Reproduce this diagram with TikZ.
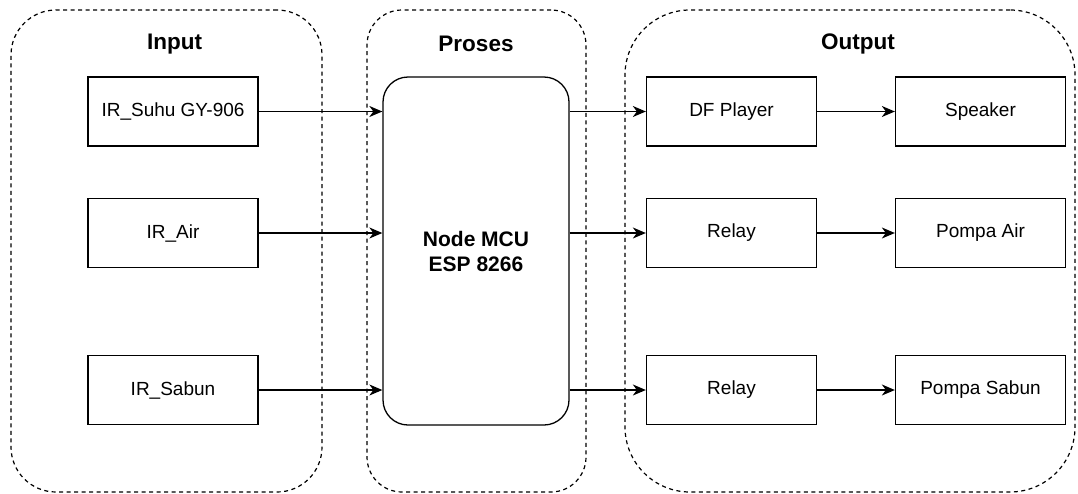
\documentclass[tikz,border=0pt]{standalone}
\usepackage{fontspec}
\setmainfont{Liberation Sans}
\usetikzlibrary{arrows.meta}

\begin{document}
\begin{tikzpicture}[
    x = 1pt, y = -1pt,
    line width = 1.3pt,
    group/.style = {draw,
      dash pattern = on 4pt off 3.5pt,
      line width = 1.2pt,
      inner sep = 0pt},
    block/.style = {draw,
      font = \fontsize{19}{22}\selectfont,
      minimum width = 170pt,
      minimum height = 69pt,
      inner sep = 0pt},
    title/.style = {font = \bfseries\fontsize{22.5}{26}\selectfont},
    link/.style = {-{Stealth[length = 13pt, width = 11pt, inset = 4pt]}},
    ]

    \useasboundingbox (0, 0) rectangle (1078, 493);

    % groups
    \node at (166.5, 251)
    [group, rounded corners = 45pt, minimum width = 311pt,
      minimum height = 482pt, name = G_in] {};
    \node at (476.5, 251)
    [group, rounded corners = 35pt, minimum width = 219pt,
      minimum height = 482pt, name = G_proc] {};
    \node at (850, 251)
    [group, rounded corners = 65pt, minimum width = 450pt,
      minimum height = 482pt, name = G_out] {};

    \node at (174.5, 44) [title, name = T_in] {Input};
    \node at (476, 44) [title, name = T_proc] {Proses};
    \node at (858, 44) [title, name = T_out] {Output};

    % input
    \node at (173, 111.5) [block, name = IR_Suhu] {IR\_Suhu GY-906};
    \node at (173, 233) [block, name = IR_Air] {IR\_Air};
    \node at (173, 390) [block, name = IR_Sabun] {IR\_Sabun};

    % process
    \node at (476, 251)
    [draw, rounded corners = 25pt, minimum width = 186pt,
      minimum height = 348pt, align = center,
      font = \bfseries\fontsize{21}{25}\selectfont,
      name = MCU] {Node MCU\\ESP 8266};

    % output
    \node at (731.5, 111.5) [block, name = DF] {DF Player};
    \node at (980.5, 111.5) [block, name = Speaker] {Speaker};
    \node at (731.5, 233) [block, name = Relay_A] {Relay};
    \node at (980.5, 233) [block, name = Pompa_A] {Pompa Air};
    \node at (731.5, 390) [block, name = Relay_S] {Relay};
    \node at (980.5, 390) [block, name = Pompa_S] {Pompa Sabun};

    \draw [link] (IR_Suhu) -- (IR_Suhu -| MCU.west);
    \draw [link] (IR_Air) -- (IR_Air -| MCU.west);
    \draw [link] (IR_Sabun) -- (IR_Sabun -| MCU.west);

    \draw [link] (DF -| MCU.east) -- (DF);
    \draw [link] (Relay_A -| MCU.east) -- (Relay_A);
    \draw [link] (Relay_S -| MCU.east) -- (Relay_S);

    \draw [link] (DF) -- (Speaker);
    \draw [link] (Relay_A) -- (Pompa_A);
    \draw [link] (Relay_S) -- (Pompa_S);

  \end{tikzpicture}
\end{document}
